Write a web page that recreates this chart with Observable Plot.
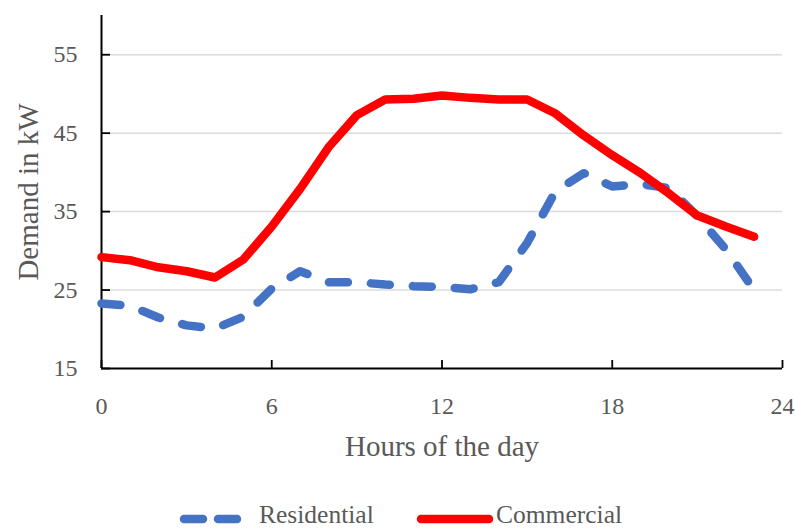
<!DOCTYPE html>
<html>
<head>
<meta charset="utf-8">
<script src="https://cdn.jsdelivr.net/npm/d3@7"></script>
<script src="https://cdn.jsdelivr.net/npm/@observablehq/plot@0.6"></script>
<style>
  html, body { margin: 0; padding: 0; background: #fff; }
  #wrap { width: 795px; height: 528px; overflow: hidden; font-family: "Liberation Serif", serif; }
  #legend { position: relative; width: 795px; height: 28px; color: #595959; font-size: 25.5px; }
  #legend .sw { position: absolute; top: 11px; }
  #legend .lab { position: absolute; top: 1px; line-height: 28px; white-space: nowrap; }
</style>
</head>
<body>
<div id="wrap">
  <div id="chart"></div>
  <div id="legend"></div>
</div>
<script>
const hours = [0,1,2,3,4,5,6,7,8,9,10,11,12,13,14,15,16,17,18,19,20,21,22,23];
const residential = [23.3,23.0,21.5,20.5,20.1,21.6,25.2,27.4,26.0,26.0,25.7,25.5,25.4,25.1,26.0,31.0,37.6,39.9,38.2,38.5,38.0,34.4,30.2,25.0];
const commercial  = [29.2,28.8,27.9,27.4,26.6,28.9,33.1,37.9,43.2,47.3,49.3,49.4,49.8,49.5,49.3,49.3,47.5,44.7,42.2,39.9,37.3,34.5,33.1,31.8];
const seriesNames = ["Residential", "Commercial"];
const seriesColors = ["#4472C4", "#FF0000"];
const xTicks = [0, 6, 12, 18, 24];
const yTicks = [15, 25, 35, 45, 55];
const xLabel = "Hours of the day";
const yLabel = "Demand in kW";

const resData = hours.map((h, i) => ({hour: h, value: residential[i]}));
const comData = hours.map((h, i) => ({hour: h, value: commercial[i]}));

const W = 795, H = 500, ML = 101, MR = 13, MT = 15, MB = 132;
const frameW = W - ML - MR, frameH = H - MT - MB;

const chart = Plot.plot({
  width: W,
  height: H,
  marginLeft: ML,
  marginRight: MR,
  marginTop: MT,
  marginBottom: MB,
  style: {fontFamily: "Liberation Serif, serif", fontSize: "24px", color: "#595959", background: "white", overflow: "visible"},
  x: {domain: [0, 24], label: null},
  y: {domain: [15, 60], label: null},
  marks: [
    Plot.ruleY(yTicks.filter(d => d > 15), {stroke: "#dcdcdc", strokeWidth: 1.5}),
    Plot.axisX({ticks: xTicks, tickSize: 0, tickPadding: 28, fill: "#595959", label: null, fontSize: 24}),
    Plot.axisY({ticks: yTicks, tickSize: 0, tickPadding: 24, fill: "#595959", label: null, fontSize: 24}),
    Plot.tickX(xTicks, {x: d => d, stroke: "#000", strokeWidth: 1.8, insetTop: frameH - 8}),
    Plot.tickY(yTicks, {y: d => d, stroke: "#000", strokeWidth: 1.8, insetRight: frameW - 9}),
    Plot.ruleX([0], {stroke: "#000", strokeWidth: 2}),
    Plot.ruleY([15], {stroke: "#000", strokeWidth: 2}),
    Plot.line(resData, {x: "hour", y: "value", stroke: seriesColors[0], strokeWidth: 8.5, strokeDasharray: "19,23", strokeLinecap: "round", strokeLinejoin: "round"}),
    Plot.line(comData, {x: "hour", y: "value", stroke: seriesColors[1], strokeWidth: 8.5, strokeLinecap: "round", strokeLinejoin: "round"}),
    Plot.text([xLabel], {frameAnchor: "bottom", dy: 78, fill: "#595959", fontSize: 29, lineAnchor: "middle", textAnchor: "middle"}),
    Plot.text([yLabel], {frameAnchor: "left", dx: -73, rotate: -90, fill: "#595959", fontSize: 29, lineAnchor: "middle", textAnchor: "middle"})
  ]
});
document.getElementById("chart").appendChild(chart);

// Legend
const legend = document.getElementById("legend");
const items = [
  {name: seriesNames[0], color: seriesColors[0], dash: "19,15", swX: 176, swW: 72, labX: 259},
  {name: seriesNames[1], color: seriesColors[1], dash: null, swX: 413, swW: 80, labX: 496}
];
for (const it of items) {
  const svg = d3.create("svg").attr("class", "sw").attr("width", it.swW).attr("height", 16)
    .style("left", it.swX + "px");
  svg.append("line").attr("x1", 8).attr("x2", it.swW - 4).attr("y1", 8).attr("y2", 8)
    .attr("stroke", it.color).attr("stroke-width", 8.5).attr("stroke-linecap", "round")
    .attr("stroke-dasharray", it.dash);
  legend.appendChild(svg.node());
  const lab = document.createElement("span");
  lab.className = "lab";
  lab.style.left = it.labX + "px";
  lab.textContent = it.name;
  legend.appendChild(lab);
}
</script>
</body>
</html>
